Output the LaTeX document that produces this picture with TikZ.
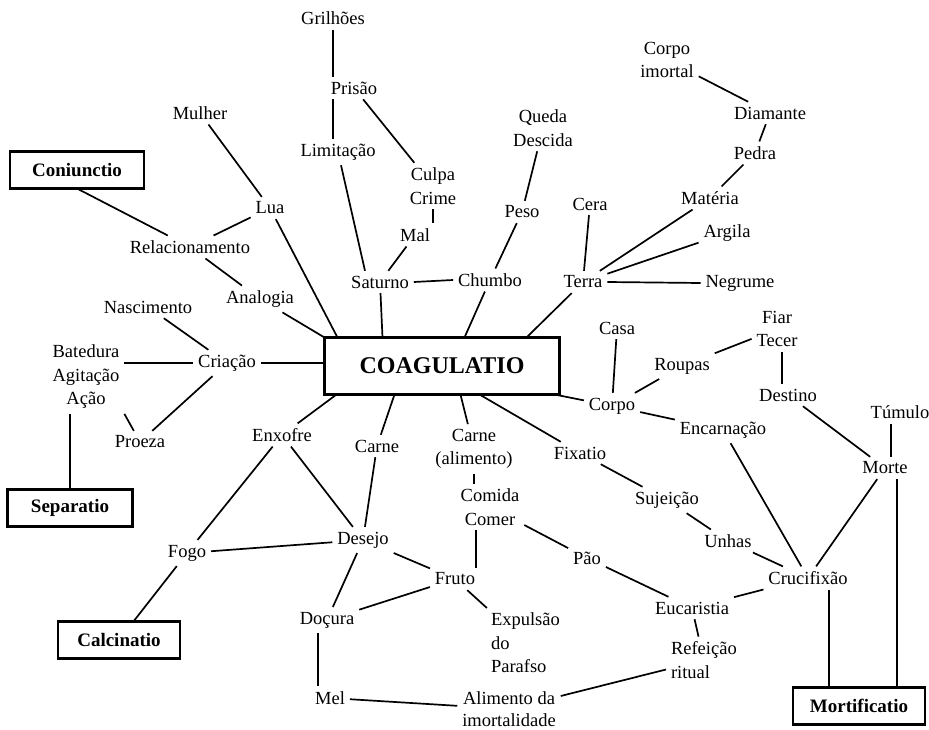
\documentclass[tikz,border=0pt]{standalone}
\usepackage{fontspec}
\setmainfont{Liberation Serif}
\begin{document}
\begin{tikzpicture}[x=1pt,y=-1pt,
  lbl/.style={font=\fontsize{18.5}{23.5}\selectfont, inner sep=1pt, outer sep=4pt, align=center},
  box/.style={draw, line width=2.4pt, font=\bfseries\fontsize{19}{23}\selectfont, inner sep=0pt, outer sep=0pt, minimum width=#1, minimum height=37pt},
  conn/.style={line width=1.7pt}]
\useasboundingbox (0,0) rectangle (929,730);

% boxes
\node[draw, line width=3pt, inner sep=0pt, outer sep=0pt, minimum width=235pt, minimum height=57pt,
      font=\bfseries\fontsize{24}{28}\selectfont] (C) at (442,366) {COAGULATIO};
\node[box=134pt] (Con) at (77,170) {Coniunctio};
\node[box=125pt] (Sep) at (70,508) {Separatio};
\node[box=122pt] (Cal) at (119,640) {Calcinatio};
\node[box=132pt] (Mor) at (859,706) {Mortificatio};

% labels
\node[lbl] (Gri) at (333,18) {Grilhões};
\node[lbl] (Pri) at (354,88) {Prisão};
\node[lbl] (Lim) at (338,152) {Limitação};
\node[lbl] (Mul) at (200,113) {Mulher};
\node[lbl] (Lua) at (270,208) {Lua};
\node[lbl] (Rel) at (190,247) {Relacionamento};
\node[lbl] (Ana) at (260,299) {Analogia};
\node[lbl] (Cul) at (433,186) {Culpa\\Crime};
\node[lbl] (Mal) at (415,235) {Mal};
\node[lbl] (Que) at (543,128) {Queda\\Descida};
\node[lbl] (Pes) at (522,212) {Peso};
\node[lbl] (Cer) at (590,204) {Cera};
\node[lbl] (CIm) at (667,60) {Corpo\\imortal};
\node[lbl] (Dia) at (770,113) {Diamante};
\node[lbl] (Ped) at (755,153) {Pedra};
\node[lbl] (Mat) at (710,198) {Matéria};
\node[lbl] (Arg) at (727,233) {Argila};
\node[lbl] (Sat) at (380,282) {Saturno};
\node[lbl] (Chu) at (490,280) {Chumbo};
\node[lbl] (Ter) at (583,282) {Terra};
\node[lbl] (Neg) at (740,283) {Negrume};
\node[lbl] (Cas) at (617,328) {Casa};
\node[lbl] (Rou) at (682,366) {Roupas};
\node[lbl] (Fia) at (777,329) {Fiar\\Tecer};
\node[lbl] (Des) at (788,395) {Destino};
\node[lbl] (Cor) at (612,406) {Corpo};
\node[lbl] (Enc) at (723,430) {Encarnação};
\node[lbl] (Tum) at (900,412) {Túmulo};
\node[lbl] (Mte) at (885,468) {Morte};
\node[lbl] (Nas) at (148,307) {Nascimento};
\node[lbl] (Cri) at (227,363) {Criação};
\node[lbl] (Bat) at (86,377) {Batedura\\Agitação\\Ação};
\node[lbl] (Pro) at (140,442) {Proeza};
\node[lbl] (Enx) at (282,435) {Enxofre};
\node[lbl] (Fog) at (187,553) {Fogo};
\node[lbl] (Car) at (377,446) {Carne};
\node[lbl] (CAl) at (474,449) {Carne\\(alimento)};
\node[lbl] (Fix) at (580,453) {Fixatio};
\node[lbl] (Com) at (490,507) {Comida\\Comer};
\node[lbl] (Dse) at (363,540) {Desejo};
\node[lbl] (Pao) at (587,558) {Pão};
\node[lbl] (Fru) at (455,579) {Fruto};
\node[lbl] (Doc) at (327,620) {Doçura};
\node[lbl, align=left, anchor=west] (Exp) at (486,643) {Expulsão\\do\\Parafso};
\node[lbl] (Mel) at (330,698) {Mel};
\node[lbl, font=\fontsize{18.5}{22}\selectfont] (Ali) at (509,709) {Alimento da\\imortalidade};
\node[lbl] (Suj) at (667,500) {Sujeição};
\node[lbl] (Unh) at (728,541) {Unhas};
\node[lbl] (Cru) at (808,578) {Crucifixão};
\node[lbl] (Euc) at (692,608) {Eucaristia};
\node[lbl, align=left, anchor=west] (Ref) at (666,660) {Refeição\\ritual};

% connectors
\begin{scope}[conn]
\draw (Gri.south) -- (Gri.south |- Pri.north);
\draw (Gri.south |- Pri.south) -- (Gri.south |- Lim.north);
\draw (Pri) -- (Cul);
\draw (Cul.south) -- (Cul.south |- Mal.north);
\draw (Mal) -- (Sat);
\draw (Lim) -- ([xshift=-15pt]Sat.north);
\draw (Mul) -- (Lua);
\draw (Con.south) -- (Rel);
\draw (Lua) -- (Rel);
\draw (Lua) -- ([xshift=13pt]C.north west);
\draw (Rel) -- (Ana);
\draw (Ana) -- (C.north west);
\draw (Sat) -- ([xshift=58pt]C.north west);
\draw (Sat.east) -- (Chu.west);
\draw (Chu) -- ([xshift=140pt]C.north west);
\draw (Pes) -- (Chu);
\draw (Que) -- (Pes);
\draw (Cer) -- (Ter);
\draw (Ter) -- (Mat);
\draw (Ter) -- (Arg);
\draw (Ter.east) -- (Neg.west);
\draw (Ter) -- ([xshift=202pt]C.north west);
\draw (Mat) -- (Ped);
\draw (Ped) -- (Dia);
\draw (Dia) -- (CIm);
\draw (Nas) -- (Cri);
\draw (Cri.west) -- (Cri.west -| Bat.east);
\draw (Cri.east) -- (Cri.east -| C.west);
\draw (Cri) -- (Pro);
\draw (Bat.south east) -- (Pro);
\draw (Sep.north |- Bat.south) -- (Sep.north);
\draw (Enx) -- ([xshift=12pt]C.south west);
\draw (Enx) -- (Fog);
\draw (Enx) -- (Dse);
\draw (Fog) -- (Dse);
\draw (Fog) -- (Cal);
\draw (Car) -- ([xshift=70pt]C.south west);
\draw (Car) -- (Dse);
\draw (CAl) -- ([xshift=136pt]C.south west);
\draw (CAl.south) -- (CAl.south |- Com.north);
\draw (Fix) -- ([xshift=155pt]C.south west);
\draw (Cor) -- ([xshift=-5pt]C.south east);
\draw (Cor) -- (Cas);
\draw (Cor) -- (Rou);
\draw (Rou) -- (Fia);
\draw ([xshift=5pt]Fia.south) -- ([xshift=5pt]Fia.south |- Des.north);
\draw (Des) -- (Mte);
\draw (Cor) -- (Enc);
\draw (Enc) -- (Cru);
\draw ([xshift=-9pt]Tum.south) -- ([xshift=-9pt]Tum.south |- Mte.north);
\draw (Mte) -- (Cru);
\draw ([xshift=12pt]Mte.south) -- ([xshift=12pt]Mte.south |- Mor.north);
\draw ([xshift=21pt]Cru.south) -- ([xshift=21pt]Cru.south |- Mor.north);
\draw (Fix) -- (Suj);
\draw (Suj) -- (Unh);
\draw (Unh) -- (Cru);
\draw (Cru) -- (Euc);
\draw (Com) -- (Pao);
\draw (Pao) -- (Euc);
\draw (Euc) -- (Ref);
\draw (Ref) -- (Ali);
\draw (Mel) -- (Ali);
\draw ([xshift=-9pt]Doc.south) -- ([xshift=-9pt]Doc.south |- Mel.north);
\draw ([xshift=-14pt]Com.south) -- ([xshift=-14pt]Com.south |- Fru.north);
\draw (Dse) -- (Fru);
\draw (Dse) -- (Doc);
\draw (Fru) -- (Doc);
\draw (Fru) -- (Exp);
\end{scope}
\end{tikzpicture}
\end{document}
